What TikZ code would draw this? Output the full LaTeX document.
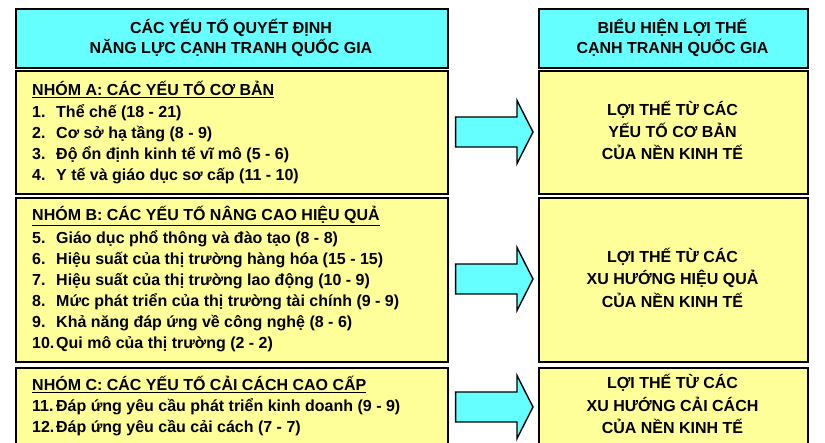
\documentclass[tikz,border=0pt]{standalone}
\usepackage{fontspec}
\setmainfont{Liberation Sans}
\usetikzlibrary{calc}
\definecolor{hdrcyan}{HTML}{66FFFF}
\definecolor{boxyellow}{HTML}{FFFF99}
\tikzset{
  box/.style={draw=black, line width=1.6pt, rectangle, anchor=north west, inner sep=0pt},
  hdr/.style={box, fill=hdrcyan},
  grp/.style={box, fill=boxyellow},
  ltxt/.style={anchor=base west, inner sep=0pt, font=\fontsize{16}{18}\selectfont\bfseries},
  ctxt/.style={anchor=base, inner sep=0pt, font=\fontsize{16}{18}\selectfont\bfseries},
  bigarrow/.style={draw=black, line width=1.4pt, fill=hdrcyan, line join=miter},
}
\newcommand{\itm}[2]{\makebox[24pt][l]{#1}#2}
\begin{document}
\begin{tikzpicture}[x=1pt,y=-1pt]
\useasboundingbox (0,0) rectangle (825,443);
% left column boxes
\node[hdr, minimum width=432pt, minimum height=59pt] (H1) at (15,8) {};
\node[grp, minimum width=432pt, minimum height=123pt] (GA) at (15,70) {};
\node[grp, minimum width=432pt, minimum height=164pt] (GB) at (15,197) {};
\node[grp, minimum width=432pt, minimum height=100pt] (GC) at (15,367) {};
% right column boxes
\node[hdr, minimum width=269pt, minimum height=59pt] (H2) at (538,8) {};
\node[grp, minimum width=269pt, minimum height=123pt] (RA) at (538,70) {};
\node[grp, minimum width=269pt, minimum height=164pt] (RB) at (538,197) {};
\node[grp, minimum width=269pt, minimum height=100pt] (RC) at (538,367) {};
% header texts
\node[ctxt] (h1a) at (231,33.5) {CÁC YẾU TỐ QUYẾT ĐỊNH};
\node[ctxt] (h1b) at (231,54) {NĂNG LỰC CẠNH TRANH QUỐC GIA};
\node[ctxt] (h2a) at (672.5,33.5) {BIỂU HIỆN LỢI THẾ};
\node[ctxt] (h2b) at (672.5,54) {CẠNH TRANH QUỐC GIA};
% group A
\node[ltxt] (a0) at (32,96) {\underline{NHÓM A: CÁC YẾU TỐ CƠ BẢN}};
\node[ltxt] (a1) at (32,117.5) {\itm{1.}{Thể chế (18 - 21)}};
\node[ltxt] (a2) at (32,138.5) {\itm{2.}{Cơ sở hạ tầng (8 - 9)}};
\node[ltxt] (a3) at (32,159.5) {\itm{3.}{Độ ổn định kinh tế vĩ mô (5 - 6)}};
\node[ltxt] (a4) at (32,180.5) {\itm{4.}{Y tế và giáo dục sơ cấp (11 - 10)}};
% group B
\node[ltxt] (b0) at (32,221) {\underline{NHÓM B: CÁC YẾU TỐ NÂNG CAO HIỆU QUẢ}};
\node[ltxt] (b1) at (32,243.5) {\itm{5.}{Giáo dục phổ thông và đào tạo (8 - 8)}};
\node[ltxt] (b2) at (32,264.5) {\itm{6.}{Hiệu suất của thị trường hàng hóa (15 - 15)}};
\node[ltxt] (b3) at (32,285.5) {\itm{7.}{Hiệu suất của thị trường lao động (10 - 9)}};
\node[ltxt] (b4) at (32,306.5) {\itm{8.}{Mức phát triển của thị trường tài chính (9 - 9)}};
\node[ltxt] (b5) at (32,327.5) {\itm{9.}{Khả năng đáp ứng về công nghệ (8 - 6)}};
\node[ltxt] (b6) at (32,348.5) {\itm{10.}{Qui mô của thị trường (2 - 2)}};
% group C
\node[ltxt] (c0) at (32,391) {\underline{NHÓM C: CÁC YẾU TỐ CẢI CÁCH CAO CẤP}};
\node[ltxt] (c1) at (32,412) {\itm{11.}{Đáp ứng yêu cầu phát triển kinh doanh (9 - 9)}};
\node[ltxt] (c2) at (32,432.5) {\itm{12.}{Đáp ứng yêu cầu cải cách (7 - 7)}};
% right texts
\node[ctxt] (ra1) at (672.5,115.5) {LỢI THẾ TỪ CÁC};
\node[ctxt] (ra2) at (672.5,137.5) {YẾU TỐ CƠ BẢN};
\node[ctxt] (ra3) at (672.5,160) {CỦA NỀN KINH TẾ};
\node[ctxt] (rb1) at (672.5,262.5) {LỢI THẾ TỪ CÁC};
\node[ctxt] (rb2) at (672.5,285) {XU HƯỚNG HIỆU QUẢ};
\node[ctxt] (rb3) at (672.5,307.5) {CỦA NỀN KINH TẾ};
\node[ctxt] (rc1) at (672.5,389) {LỢI THẾ TỪ CÁC};
\node[ctxt] (rc2) at (672.5,411.5) {XU HƯỚNG CẢI CÁCH};
\node[ctxt] (rc3) at (672.5,434) {CỦA NỀN KINH TẾ};
% arrows
\foreach \L/\R/\y in {GA/RA/132, GB/RB/279, GC/RC/407}{
  \coordinate (s) at ($(\L.east)+(7,0)$);
  \coordinate (t) at ($(\R.west)+(-5,0)$);
  \draw[bigarrow] (s |- 0,\y-15) -- ($(t |- 0,\y-15)+(-16,0)$) -- ($(t |- 0,\y-31.5)+(-16,0)$)
     -- (t |- 0,\y) -- ($(t |- 0,\y+31.5)+(-16,0)$) -- ($(t |- 0,\y+15)+(-16,0)$)
     -- (s |- 0,\y+15) -- cycle;
}
\end{tikzpicture}
\end{document}
